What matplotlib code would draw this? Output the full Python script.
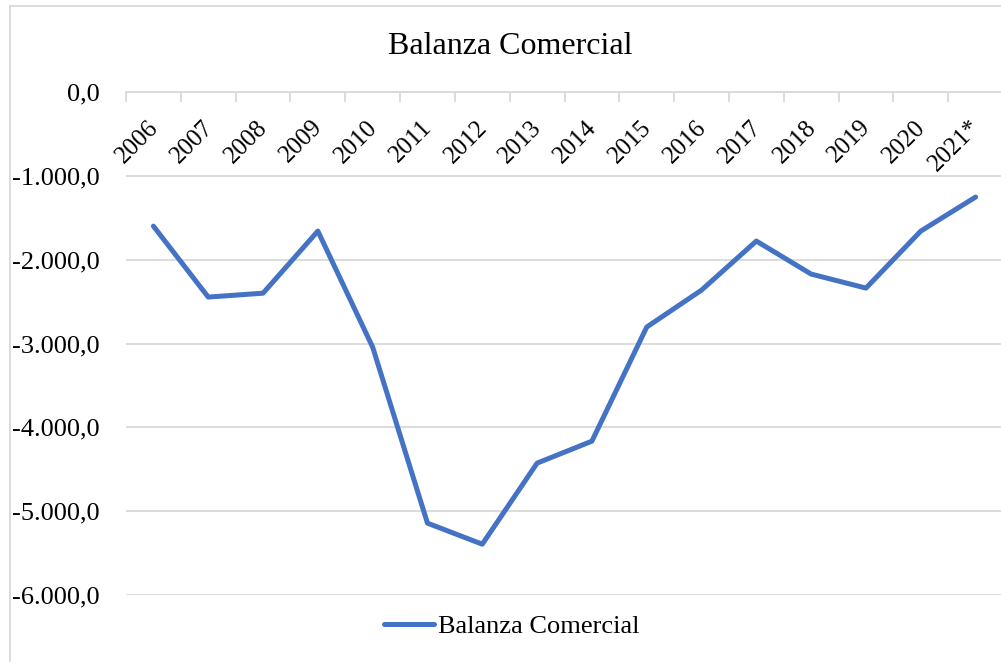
import matplotlib
matplotlib.use("Agg")
from matplotlib import pyplot as plt
from matplotlib.lines import Line2D

plt.rcParams['font.family'] = ['Liberation Serif', 'DejaVu Serif']

years = ['2006', '2007', '2008', '2009', '2010', '2011', '2012', '2013',
         '2014', '2015', '2016', '2017', '2018', '2019', '2020', '2021*']
balanza = [-1600, -2446, -2400, -1659, -3043, -5143, -5394, -4427,
           -4165, -2804, -2363, -1778, -2172, -2339, -1659, -1253]
y_ticks = [0, -1000, -2000, -3000, -4000, -5000, -6000]

W, H = 1001, 662
grid_col = '#d9d9d9'
line_col = '#4472c4'


def fmt_es(v):
    s = '{:,.1f}'.format(v)
    return s.replace(',', 'X').replace('.', ',').replace('X', '.')


fig = plt.figure(figsize=(W / 100, H / 100), dpi=100)
ax = fig.add_axes([126 / W, 1 - 595 / H, (1003 - 126) / W, (595 - 92) / H])

x = list(range(len(years)))
ax.plot(x, balanza, color=line_col, lw=3.6, solid_joinstyle='round',
        solid_capstyle='round', label='Balanza Comercial', zorder=3)

ax.set_xlim(-0.5, len(years) - 0.5)
ax.set_ylim(-6000, 0)
ax.set_yticks(y_ticks)
ax.set_yticklabels([fmt_es(v) for v in y_ticks], fontsize=19)
ax.yaxis.grid(True, color=grid_col, lw=1.3)
ax.set_axisbelow(True)
ax.tick_params(axis='y', length=0, pad=19)

# category axis sits at the top (value 0), ticks between categories
ax.xaxis.tick_top()
ax.set_xticks([i - 0.5 for i in range(len(years) + 1)])
ax.set_xticklabels([])
ax.tick_params(axis='x', direction='in', length=7, color=grid_col, width=1.3)

for sp in ['left', 'right', 'bottom']:
    ax.spines[sp].set_visible(False)
ax.spines['top'].set_color(grid_col)
ax.spines['top'].set_linewidth(1.3)

for i, lab in enumerate(years):
    ax.annotate(lab, xy=(i, 0), xytext=(1, -23), textcoords='offset points',
                rotation=45, rotation_mode='anchor', ha='right', va='center',
                fontsize=18, annotation_clip=False)

fig.text(0.51, 1 - 46 / H, 'Balanza Comercial', ha='center', va='center', fontsize=23)

ax.legend(loc='center', bbox_to_anchor=(0.511, 1 - 626 / H),
          bbox_transform=fig.transFigure, frameon=False, fontsize=19,
          handlelength=1.9, handletextpad=0.15)

# chart area border
fig.add_artist(Line2D([10 / W, 10 / W], [0, 1 - 6 / H], color=grid_col, lw=1.3))
fig.add_artist(Line2D([10 / W, 1], [1 - 6 / H, 1 - 6 / H], color=grid_col, lw=1.3))

fig.savefig('out.png', dpi=100)
